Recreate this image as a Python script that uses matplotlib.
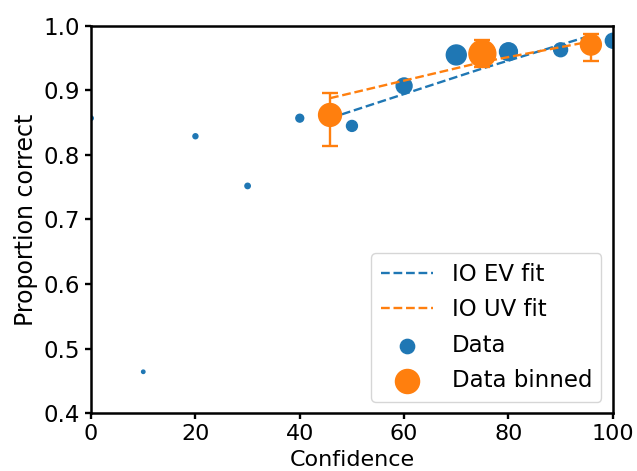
import numpy as np
import matplotlib
matplotlib.use("Agg")
import matplotlib.pyplot as plt

# raw data: confidence level, proportion correct, marker size (~ count)
conf = [0, 10, 20, 30, 40, 50, 60, 70, 80, 90, 100]
prop = [0.857, 0.464, 0.829, 0.752, 0.857, 0.845, 0.907, 0.955, 0.960, 0.963, 0.977]
sizes = [10, 6, 13, 15, 32, 62, 131, 206, 166, 100, 115]

# binned data
bin_conf = [45.8, 75.0, 95.8]
bin_prop = [0.862, 0.957, 0.971]
bin_err_lo = [0.048, 0.021, 0.025]
bin_err_hi = [0.034, 0.021, 0.017]
bin_sizes = [272, 375, 227]

# model fits evaluated at the bin positions
ev_fit = [0.857, 0.934, 0.985]
uv_fit = [0.888, 0.944, 0.976]

plt.rcParams["font.size"] = 15.5
plt.rcParams["axes.linewidth"] = 1.8

fig = plt.figure(figsize=(6.37, 4.71), dpi=100)
ax = fig.add_axes([0.143, 0.123, 0.819, 0.822])

ax.plot(bin_conf, ev_fit, "--", color="tab:blue", lw=1.7, label="IO EV fit")
ax.plot(bin_conf, uv_fit, "--", color="tab:orange", lw=1.7, label="IO UV fit")
ax.scatter(conf, prop, s=sizes, color="tab:blue", label="Data")
ax.errorbar(bin_conf, bin_prop, yerr=[bin_err_lo, bin_err_hi], fmt="none",
            ecolor="tab:orange", elinewidth=1.7, capsize=5.5, capthick=1.7)
ax.scatter(bin_conf, bin_prop, s=bin_sizes, color="tab:orange", label="Data binned", zorder=3)

ax.set_xlim(0, 100)
ax.set_ylim(0.4, 1.0)
ax.set_xticks([0, 20, 40, 60, 80, 100])
ax.set_yticks([0.4, 0.5, 0.6, 0.7, 0.8, 0.9, 1.0])
ax.tick_params(width=1.7, length=4.5)
ax.tick_params(axis="y", labelsize=16.5)
ax.tick_params(axis="x", labelsize=16)
ax.set_xlabel("Confidence", fontsize=16, labelpad=4)
ax.set_ylabel("Proportion correct", fontsize=17)
ax.legend(loc="lower right", fontsize=16.5, handlelength=2.3, labelspacing=0.55)

fig.savefig("out.png", dpi=100)
